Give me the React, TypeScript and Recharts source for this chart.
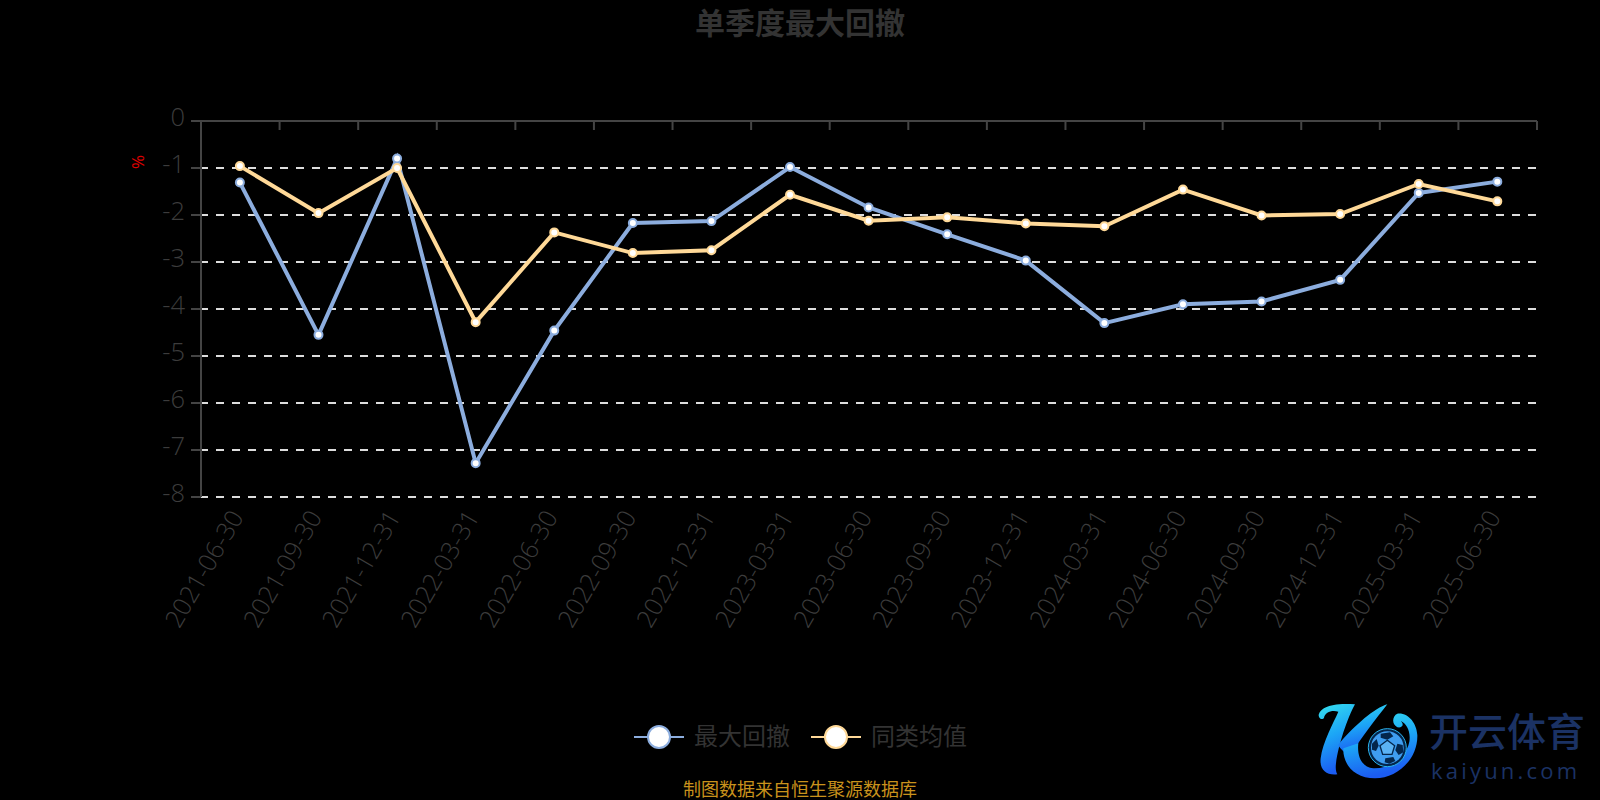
import React from 'react';
import { LineChart, Line, XAxis, YAxis, CartesianGrid, Legend } from 'recharts';

const dates = ['2021-06-30','2021-09-30','2021-12-31','2022-03-31','2022-06-30','2022-09-30','2022-12-31','2023-03-31','2023-06-30','2023-09-30','2023-12-31','2024-03-31','2024-06-30','2024-09-30','2024-12-31','2025-03-31','2025-06-30'];
const maxDrawdown = [-1.31,-4.55,-0.80,-7.28,-4.46,-2.17,-2.13,-0.98,-1.84,-2.41,-2.97,-4.30,-3.90,-3.84,-3.38,-1.53,-1.29];
const peerAverage = [-0.96,-1.96,-1.00,-4.28,-2.37,-2.81,-2.75,-1.57,-2.12,-2.05,-2.18,-2.24,-1.46,-2.01,-1.98,-1.34,-1.71];
const yTicks = [0,-1,-2,-3,-4,-5,-6,-7,-8];
const gridValues = [-1,-2,-3,-4,-5,-6,-7,-8];
const labelTicks = dates.map((_, i) => i);
const edgeTicks = [...dates.map((_, i) => i - 0.5), dates.length - 0.5];

const rows = dates.map((date, i) => ({ idx: i, date, max: maxDrawdown[i], avg: peerAverage[i] }));

const CJK = '"Open Sans","Noto Sans CJK SC",sans-serif';
const GREY = '#333333';
const LABEL = '#3c3c3c';
const AXIS = '#444444';

const DateTick = (props: any) => {
  const { x, y, payload } = props;
  return (
    <text x={x} y={y} transform={`rotate(-60 ${x} ${y})`} textAnchor="end" dominantBaseline="middle"
      dx={-8} dy={3} fill={LABEL} fontSize={25} fontWeight={300} fontFamily={CJK}>
      {dates[payload.value]}
    </text>
  );
};

const ValueTick = (props: any) => {
  const { x, y, payload } = props;
  return (
    <text x={x + 2} y={y - 5} textAnchor="end" dominantBaseline="central" fill={LABEL} fontSize={25.5} fontWeight={300} fontFamily={CJK}>
      {payload.value}
    </text>
  );
};

const NoLabel = () => <g />;

const LegendContent = (props: any) => {
  const xs = [634, 811];
  return (
    <div style={{ position: 'relative', height: 0, width: 0 }}>
      <svg width={1600} height={800} style={{ position: 'absolute', left: 0, top: 0, overflow: 'visible' }}>
        {(props.payload || []).map((p: any, i: number) => (
          <g key={p.value}>
            <line x1={xs[i]} x2={xs[i] + 50} y1={737} y2={737} stroke={p.color} strokeWidth={2} />
            <circle cx={xs[i] + 25} cy={737} r={11} fill="#fff" stroke={p.color} strokeWidth={2} />
            <text x={xs[i] + 60} y={745} fontSize={24} fill={GREY} fontFamily={CJK}>{p.value}</text>
          </g>
        ))}
      </svg>
    </div>
  );
};

const Overlay = () => (
  <svg width={1600} height={800} style={{ position: 'absolute', left: 0, top: 0, pointerEvents: 'none' }}>
    <defs>
      <linearGradient id="kg" x1="0" y1="0" x2="0.25" y2="1">
        <stop offset="0" stopColor="#36e0ee" />
        <stop offset="0.5" stopColor="#1ca6f6" />
        <stop offset="1" stopColor="#1b5cf2" />
      </linearGradient>
    </defs>
    <text x={800} y={34} textAnchor="middle" fontSize={30} fontWeight={700} fill={GREY} fontFamily={CJK}>单季度最大回撤</text>
    <text x={0} y={0} transform="translate(144 162) rotate(-90)" textAnchor="middle" fontSize={17} fill="#e00000" fontFamily={CJK}>%</text>
    <text x={800} y={796} textAnchor="middle" fontSize={18} fill="#c9921c" fontFamily={CJK}>制图数据来自恒生聚源数据库</text>
    <g transform="translate(1310 695) scale(0.3333)">
      <path d="M26 62 C28 40 60 22 135 28 C112 70 85 150 78 205 C76 220 78 232 82 238 C50 242 28 225 32 190 C38 140 70 85 85 50 C65 44 45 52 42 68 C38 76 28 72 26 62 Z" fill="url(#kg)" />
      <path d="M232 28 C195 38 135 90 84 150 C96 168 112 182 126 176 C152 128 200 70 232 28 Z" fill="url(#kg)" />
      <path d="M100 160 C98 210 135 250 195 250 C262 250 324 192 322 120 C320 85 295 52 262 56 C248 62 243 87 262 97 C277 100 284 88 272 78 C290 85 303 110 298 140 C288 190 235 222 190 220 C160 218 140 190 145 145 Z" fill="url(#kg)" />
      <circle cx={232} cy={158} r={57} fill="#04264c" stroke="#2ab4ee" strokeWidth={3} />
      <circle cx={232} cy={158} r={49} fill="#3f9df0" />
      <polygon points="232,136 254,152 246,178 218,178 210,152" fill="#5bb2f4" stroke="#04264c" strokeWidth={4} />
      <polygon points="212,116 240,112 250,124 232,134 212,128" fill="#04264c" />
      <polygon points="262,146 278,150 280,172 266,180 256,166" fill="#04264c" />
      <polygon points="226,190 250,186 256,198 238,206 224,202" fill="#04264c" />
      <polygon points="186,146 200,132 206,152 198,168 186,164" fill="#04264c" />
    </g>
    <text x={1507} y={746} textAnchor="middle" fontSize={39} fontWeight={500} fill="#1b3264" fontFamily='"Noto Sans CJK SC",sans-serif'>开云体育</text>
    <text x={1431} y={779} fontSize={22} letterSpacing={3.2} fill="#1b3264" fontFamily='"Open Sans",sans-serif'>kaiyun.com</text>
  </svg>
);

export default function App() {
  return (
    <div style={{ position: 'absolute', left: 0, top: 0, width: 1600, height: 800, background: '#000' }}>
      <LineChart width={1600} height={800} data={rows} margin={{ top: 121, right: 63, bottom: 203, left: 141 }}>
        <CartesianGrid xAxisId="labels" yAxisId="v" horizontal vertical={false} horizontalValues={gridValues} stroke="#dddddd" strokeWidth={2} strokeDasharray="8 8" strokeDashoffset={1} />
        <XAxis xAxisId="labels" dataKey="idx" type="number" domain={[-0.495, 16.505]} ticks={labelTicks} interval={0}
          orientation="bottom" height={100} axisLine={false} tickLine={false} tick={<DateTick />} allowDataOverflow />
        <XAxis xAxisId="edges" dataKey="idx" type="number" domain={[-0.5, 16.5]} ticks={edgeTicks} interval={0}
          orientation="top" mirror axisLine={{ stroke: AXIS, strokeWidth: 2 }} tickLine={{ stroke: AXIS, strokeWidth: 2 }} tickSize={9} tick={<NoLabel />} allowDataOverflow />
        <YAxis yAxisId="v" type="number" domain={[-8, 0]} ticks={yTicks} interval={0} width={60}
          axisLine={{ stroke: AXIS, strokeWidth: 2 }} tickLine={{ stroke: AXIS, strokeWidth: 2 }} tickSize={10} tickMargin={8}
          tick={<ValueTick />} allowDataOverflow />
        <Legend itemSorter={null} content={<LegendContent />} wrapperStyle={{ left: 0, top: 0, width: 0, height: 0 }} />
        <Line xAxisId="labels" yAxisId="v" name="最大回撤" dataKey="max" stroke="#8cadde" strokeWidth={4}
          dot={{ r: 4, fill: '#ffffff', stroke: '#8cadde', strokeWidth: 2 }} isAnimationActive={false} />
        <Line xAxisId="labels" yAxisId="v" name="同类均值" dataKey="avg" stroke="#ffd998" strokeWidth={4}
          dot={{ r: 4, fill: '#ffffff', stroke: '#ffd998', strokeWidth: 2 }} isAnimationActive={false} />
      </LineChart>
      <Overlay />
    </div>
  );
}
